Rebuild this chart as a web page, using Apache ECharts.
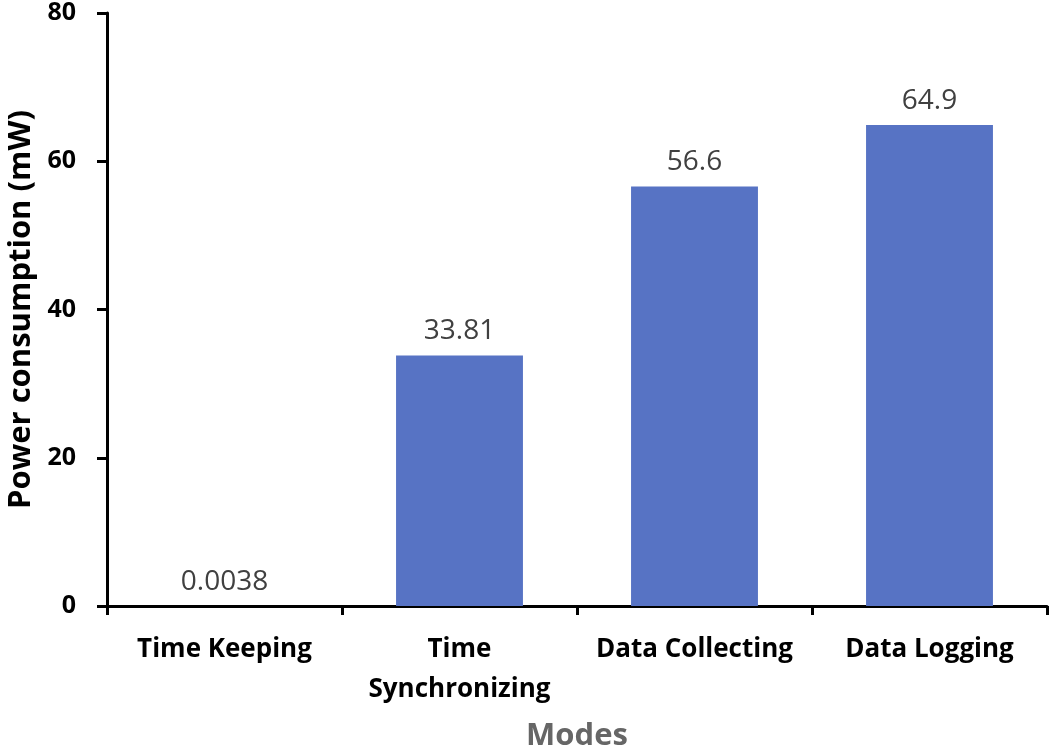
<!DOCTYPE html>
<html>
<head>
<meta charset="utf-8">
<script src="https://cdn.jsdelivr.net/npm/echarts@6/dist/echarts.min.js"></script>
<style>
html,body{margin:0;padding:0;background:#fff;}
#chart{width:1050px;height:749px;}
</style>
</head>
<body>
<div id="chart"></div>
<script>
var categories = ['Time Keeping', 'Time\nSynchronizing', 'Data Collecting', 'Data Logging'];
var values = [0.0038, 33.81, 56.6, 64.9];
var valueLabels = ['0.0038', '33.81', '56.6', '64.9'];
var yTicks = [0, 20, 40, 60, 80];

var chart = echarts.init(document.getElementById('chart'));
var font = '"Open Sans", "Liberation Sans", sans-serif';
chart.setOption({
  animation: false,
  grid: {left: 107, right: 3, top: 13, bottom: 143, containLabel: false, outerBoundsMode: 'none'},
  xAxis: {
    type: 'category',
    data: categories,
    name: 'Modes',
    nameLocation: 'middle',
    nameGap: 115,
    nameTextStyle: {color: '#666666', fontSize: 31, fontWeight: 'bold', fontFamily: font},
    axisLine: {lineStyle: {color: '#000', width: 3}},
    axisTick: {show: true, length: 9, lineStyle: {color: '#000', width: 3}, alignWithLabel: false},
    axisLabel: {color: '#000', fontSize: 26, fontWeight: 'bold', fontFamily: font, margin: 24, lineHeight: 40, interval: 0}
  },
  yAxis: {
    type: 'value',
    min: yTicks[0],
    max: yTicks[yTicks.length - 1],
    interval: 20,
    name: 'Power consumption (mW)',
    nameLocation: 'middle',
    nameGap: 68,
    nameTextStyle: {color: '#000', fontSize: 31, fontWeight: 'bold', fontFamily: font},
    axisLine: {show: true, lineStyle: {color: '#000', width: 3}},
    axisTick: {show: true, length: 10, lineStyle: {color: '#000', width: 3}},
    splitLine: {show: false},
    axisLabel: {color: '#000', fontSize: 25, fontWeight: 'bold', fontFamily: font, margin: 31}
  },
  series: [{
    type: 'bar',
    data: values,
    barWidth: '54%',
    itemStyle: {color: '#5773C4'},
    label: {
      show: true,
      position: 'top',
      distance: 10,
      color: '#404040',
      fontSize: 28,
      fontFamily: font,
      formatter: function (p) { return valueLabels[p.dataIndex]; }
    }
  }]
});
</script>
</body>
</html>
